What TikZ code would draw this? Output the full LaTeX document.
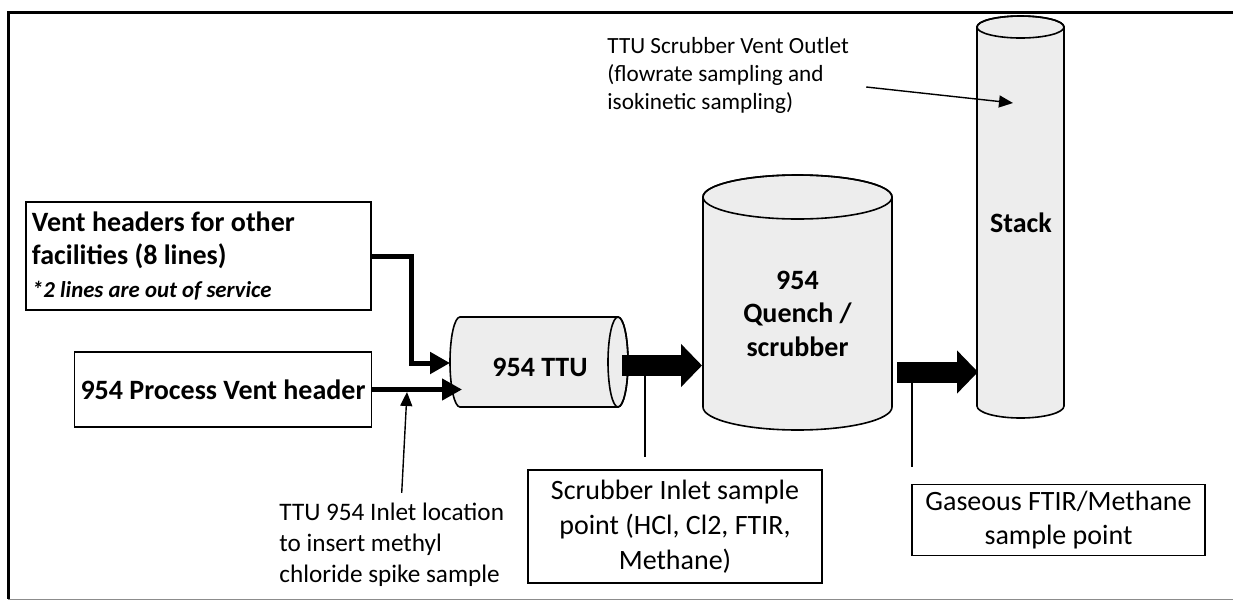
\documentclass[tikz,border=0pt]{standalone}
\usepackage{fontspec}
\setmainfont{Carlito}
\usetikzlibrary{arrows.meta,positioning}

\begin{document}
\begin{tikzpicture}[x=0.5pt,y=-0.5pt]

    \tikzset{
      hdrbox/.style={draw, line width=0.8pt, inner sep=3pt,
        font=\fontsize{14}{16.5}\selectfont\bfseries},
      notebox/.style={draw, line width=0.8pt, align=center,
        font=\fontsize{14}{17.5}\selectfont},
      note/.style={inner sep=1.5pt, align=left, anchor=west},
      vessel/.style={draw, line width=0.8pt, fill=black!7},
      vesseltext/.style={align=center, font=\fontsize{14}{16.75}\selectfont\bfseries},
      pipe/.style={line width=2.5pt, -{Triangle[length=10pt,width=10.5pt]}},
      flow/.style={line width=10.5pt, -{Triangle[length=10.5pt,width=21pt]}},
      pointer/.style={line width=0.7pt, -{Triangle[length=7pt,width=6pt]}},
    }
    \useasboundingbox (0,0) rectangle (1233,601);
    % frame
    \draw[line width=1.5pt] (1233,12) -- (8,12) -- (8,599);
    \draw[line width=0.5pt, black!45] (8,599.5) -- (1233,599.5);

    % vessels
    \path[vessel] (460,317) -- (618,317) arc[start angle=90, end angle=-90, x radius=5pt, y radius=22.5pt]
      -- (460,407) arc[start angle=270, end angle=90, x radius=5pt, y radius=22.5pt] -- cycle;
    \draw[line width=0.8pt] (618,362) ellipse[x radius=5pt, y radius=22.5pt];
    \path[vessel] (703,197) -- (703,407) arc[start angle=180, end angle=360, x radius=47.25pt, y radius=11.5pt]
      -- (892,197) arc[start angle=0, end angle=180, x radius=47.25pt, y radius=11pt] -- cycle;
    \draw[line width=0.8pt] (797.5,197) ellipse[x radius=47.25pt, y radius=11pt];
    \path[vessel] (977,27) -- (977,406) arc[start angle=180, end angle=360, x radius=21.75pt, y radius=6pt]
      -- (1064,27) arc[start angle=0, end angle=180, x radius=21.75pt, y radius=5.5pt] -- cycle;
    \draw[line width=0.8pt] (1020.5,27) ellipse[x radius=21.75pt, y radius=5.5pt];

    \node[vesseltext] (ttu) at (540,367) {954 TTU};
    \node[vesseltext] (quench) at (797.5,313.5) {954\\Quench /\\scrubber};
    \node[vesseltext] (stack) at (1021,223) {Stack};

    % headers and notes
    \node[hdrbox, minimum width=172.5pt, minimum height=54pt, align=flush left, text width=166.5pt] (vent) at (198.5,256)
      {Vent headers for other\\facilities (8 lines)\\{\fontsize{11.4}{13}\selectfont\itshape *2 lines are out of service}};
    \node[hdrbox, minimum width=148pt, minimum height=37.5pt] (proc) at (223,389.5) {954 Process Vent header};
    \node[note, font=\fontsize{11.6}{14}\selectfont] (outlet) at (604,75)
      {TTU Scrubber Vent Outlet\\(flowrate sampling and\\isokinetic sampling)};
    \node[note, font=\fontsize{12.6}{15.5}\selectfont] (spike) at (276,545)
      {TTU 954 Inlet location\\to insert methyl\\chloride spike sample};
    \node[notebox, minimum width=147pt, minimum height=56.5pt] (inlet) at (675,526.5)
      {Scrubber Inlet sample\\point (HCl, Cl2, FTIR,\\Methane)};
    \node[notebox, minimum width=146.5pt, minimum height=35pt, font=\fontsize{14}{17}\selectfont] (gas) at (1058.5,520)
      {Gaseous FTIR/Methane\\sample point};

    \coordinate (ttuin1) at (450,363);
    \coordinate (ttuin2) at (462,389.5);
    \coordinate (spikept) at (407,392);
    \coordinate (ttuout) at (622,365.5);
    \coordinate (quenchin) at (702,365.5);
    \coordinate (quenchout) at (897,372);
    \coordinate (stackin) at (978,372);
    \coordinate (stackpt) at (1013,103);
    \coordinate (inletpt) at (645,355);
    \coordinate (gaspt) at (912,362);

    % flows
    \draw[pipe] (vent.east) -- ++(20pt,0) |- (ttuin1);
    \draw[pipe, line width=2.2pt] (proc.east) -- (ttuin2);
    \draw[flow] (ttuout) -- (quenchin);
    \draw[flow] (quenchout) -- (stackin);
    \draw[line width=0.7pt] (inletpt) -- ([yshift=6pt]inletpt |- inlet.north);
    \draw[line width=0.7pt] (gaspt) -- ([yshift=8.5pt]gaspt |- gas.north);
    \draw[pointer] ([xshift=5pt,yshift=3.5pt]spike.north) -- (spikept);
    \draw[pointer] ([xshift=7pt,yshift=-6pt]outlet.east) -- (stackpt);

\end{tikzpicture}
\end{document}
